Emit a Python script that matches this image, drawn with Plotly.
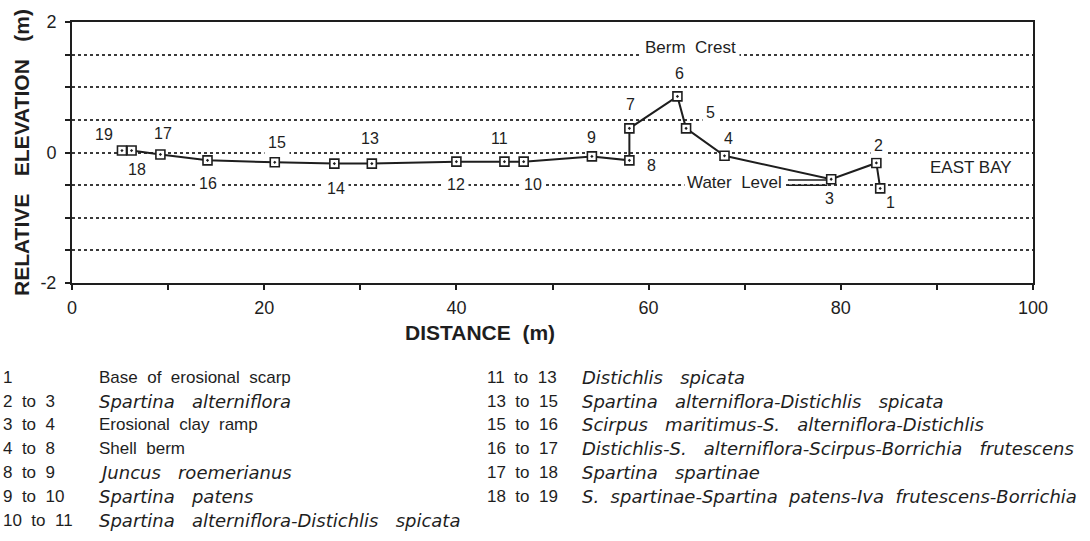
import plotly.graph_objects as go

# Survey stations along the transect (1 = bay side, 19 = landward end)
station = [1, 2, 3, 4, 5, 6, 7, 8, 9, 10, 11, 12, 13, 14, 15, 16, 17, 18, 19]
distance_m = [84.1, 83.7, 79.0, 67.9, 63.9, 63.0, 58.0, 58.0, 54.1, 47.0,
              45.0, 40.0, 31.2, 27.3, 21.1, 14.1, 9.2, 6.2, 5.2]
elevation_m = [-0.55, -0.16, -0.41, -0.05, 0.37, 0.86, 0.37, -0.12, -0.06, -0.14,
               -0.14, -0.14, -0.17, -0.17, -0.15, -0.12, -0.03, 0.03, 0.03]

# Reference levels
berm_crest = 1.5
water_level = -0.5
water_mark_x = [74.5, 78.6]
water_mark_upper = -0.42

x_ticks = [0, 10, 20, 30, 40, 50, 60, 70, 80, 90, 100]
x_ticklabels = ["0", "", "20", "", "40", "", "60", "", "80", "", "100"]
y_ticks = [-2, -1.5, -1, -0.5, 0, 0.5, 1, 1.5, 2]
y_ticklabels = ["-2", "", "", "", "0", "", "", "", "2"]

# Zone key
left_codes = ["1", "2 to 3", "3 to 4", "4 to 8", "8 to 9", "9 to 10", "10 to 11"]
left_desc = ["Base of erosional scarp",
             "<i>Spartina alterniflora</i>",
             "Erosional clay ramp",
             "Shell berm",
             "<i>Juncus roemerianus</i>",
             "<i>Spartina patens</i>",
             "<i>Spartina alterniflora-Distichlis spicata</i>"]
right_codes = ["11 to 13", "13 to 15", "15 to 16", "16 to 17", "17 to 18", "18 to 19"]
right_desc = ["<i>Distichlis spicata</i>",
              "<i>Spartina alterniflora-Distichlis spicata</i>",
              "<i>Scirpus maritimus-S. alterniflora-Distichlis</i>",
              "<i>Distichlis-S. alterniflora-Scirpus-Borrichia frutescens</i>",
              "<i>Spartina spartinae</i>",
              "<i>S. spartinae-Spartina patens-Iva frutescens-Borrichia</i>"]

# Pixel offsets of each station number from its marker (dx right, dy up)
label_offsets = {
    1: (10, -14), 2: (2, 17), 3: (-2, -19), 4: (4, 17), 5: (24, 16),
    6: (2, 23), 7: (1, 24), 8: (22, -5), 9: (0, 19), 10: (9, -23),
    11: (-5, 23), 12: (0, -23), 13: (-2, 25), 14: (2, -25), 15: (2, 20),
    16: (0, -23), 17: (3, 21), 18: (5, -19), 19: (-18, 16),
}
# Labels that sit on a grid line and interrupt it
gap_labels = {2, 5, 10, 12, 14, 15, 16}
# Key rows set with tighter word spacing so they fit the page width
tight_rows = {"18 to 19"}

INK = "#1e1e1e"
FONT = "Liberation Sans, Arial, sans-serif"
FONT_IT = "DejaVu Sans, sans-serif"
NB = "\u00a0"


def spaced(s, n=2):
    return s.replace(" ", NB * n)


# plot-area pixel frame used to place the text outside the axes
PX_L, PX_R, PX_T, PX_B = 72.0, 1033.0, 20.0, 283.0


def paper_x(px):
    return (px - PX_L) / (PX_R - PX_L)


def paper_y(py):
    return (PX_B - py) / (PX_B - PX_T)


fig = go.Figure()

fig.add_trace(go.Scatter(
    x=water_mark_x, y=[water_mark_upper] * 2, mode="lines",
    line=dict(color=INK, width=1.5), hoverinfo="skip", showlegend=False))
fig.add_trace(go.Scatter(
    x=water_mark_x, y=[water_level] * 2, mode="lines",
    line=dict(color=INK, width=1.5), hoverinfo="skip", showlegend=False))

fig.add_trace(go.Scatter(
    x=distance_m, y=elevation_m, mode="lines+markers",
    line=dict(color=INK, width=2),
    marker=dict(symbol="square-dot", size=9, color="white",
                line=dict(color=INK, width=1.6)),
    showlegend=False))

annotations = []
for s, xv, yv in zip(station, distance_m, elevation_m):
    dx, dy = label_offsets[s]
    a = dict(x=xv, y=yv, xref="x", yref="y", text=str(s), showarrow=False,
             xshift=dx, yshift=dy, font=dict(family=FONT, size=16, color=INK))
    if s in gap_labels:
        a.update(bgcolor="white", borderpad=3)
    annotations.append(a)

annotations += [
    dict(x=64.4, y=berm_crest, yshift=7, xref="x", yref="y", text=spaced("Berm Crest"),
         showarrow=False, bgcolor="white", borderpad=3,
         font=dict(family=FONT, size=17, color=INK)),
    dict(x=68.9, y=water_level, yshift=3, xref="x", yref="y", text=spaced("Water Level"),
         showarrow=False, bgcolor="white", borderpad=2,
         font=dict(family=FONT, size=17, color=INK)),
    dict(x=93.5, y=-0.23, xref="x", yref="y", text="EAST BAY", showarrow=False,
         font=dict(family=FONT, size=17, color=INK)),
    dict(x=paper_x(480), y=paper_y(333), xref="paper", yref="paper",
         xanchor="center", yanchor="middle",
         text="<b>" + spaced("DISTANCE (m)") + "</b>", showarrow=False,
         font=dict(family=FONT, size=21, color=INK)),
    dict(x=paper_x(22), y=paper_y(152), xref="paper", yref="paper", textangle=-90,
         xanchor="center", yanchor="middle",
         text="<b>" + spaced("RELATIVE ELEVATION (m)", 3) + "</b>", showarrow=False,
         font=dict(family=FONT, size=21, color=INK)),
]


def key_row(px, py, text, gap=None):
    italic = text.startswith("<i>")
    if gap is None:
        gap = 3 if italic else 2
    return dict(x=paper_x(px), y=paper_y(py), xref="paper", yref="paper",
                xanchor="left", yanchor="middle", showarrow=False,
                text=spaced(text, gap),
                font=dict(family=FONT_IT if italic else FONT,
                          size=18 if italic else 17, color=INK))


row0, row_step = 378, 24
for i, (c, d) in enumerate(zip(left_codes, left_desc)):
    py = row0 + i * row_step
    annotations.append(key_row(1, py, c))
    annotations.append(key_row(97, py, d))
for i, (c, d) in enumerate(zip(right_codes, right_desc)):
    py = row0 + i * row_step
    annotations.append(key_row(485, py, c))
    annotations.append(key_row(580, py, d, 2 if c in tight_rows else None))

fig.update_layout(
    width=1090, height=541,
    margin=dict(l=72, r=57, t=20, b=258),
    paper_bgcolor="white", plot_bgcolor="white",
    font=dict(family=FONT, color=INK),
    annotations=annotations,
    xaxis=dict(range=[0, 100], tickvals=x_ticks, ticktext=x_ticklabels,
               showgrid=False, zeroline=False, showline=True, linecolor=INK,
               linewidth=2, mirror=True, ticks="outside", ticklen=5, tickwidth=2,
               tickcolor=INK, ticklabelstandoff=2,
               tickfont=dict(family=FONT, size=18, color=INK)),
    yaxis=dict(range=[-2, 2], tickvals=y_ticks, ticktext=y_ticklabels,
               showgrid=True, gridcolor="#3a3a3a", gridwidth=1.6, griddash="dot",
               zeroline=False, showline=True, linecolor=INK, linewidth=2,
               mirror=True, ticks="outside", ticklen=5, tickwidth=2, tickcolor=INK,
               ticklabelstandoff=5,
               tickfont=dict(family=FONT, size=18, color=INK)),
)

fig.write_html("out.html")
